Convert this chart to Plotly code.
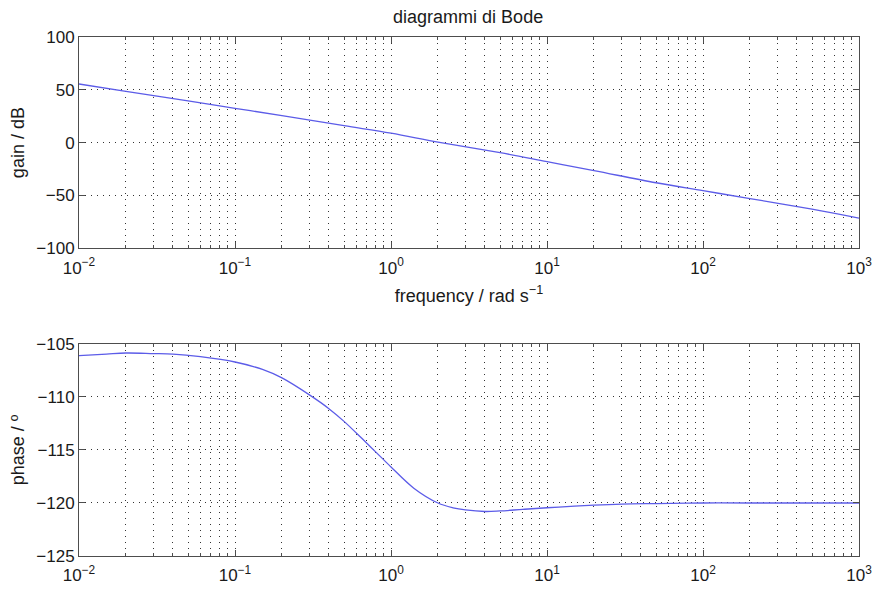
import plotly.graph_objects as go
from plotly.subplots import make_subplots

# Bode diagram readings (frequency in rad/s)
gain_freq = [0.01, 0.02, 0.05, 0.1, 0.2, 0.5, 1.0, 2.0, 5.0, 10, 20, 50, 100, 200, 500, 1000]
gain_db = [55.5, 48.5, 39.5, 32.5, 25.5, 16.0, 9.0, 0.5, -9.5, -18.0, -26.5, -38.0, -45.5, -53.0, -63.0, -71.5]

phase_freq = [0.01, 0.015, 0.02, 0.03, 0.04, 0.06, 0.1, 0.15, 0.2, 0.3, 0.4, 0.5, 0.65, 0.8,
              1.0, 1.4, 2.0, 2.5, 3.0, 4.0, 5.0, 7.0, 10, 15, 20, 30, 50, 100, 200, 500, 1000]
phase_deg = [-106.1, -105.95, -105.85, -105.9, -105.95, -106.2, -106.7, -107.4, -108.2, -109.8,
             -111.1, -112.3, -113.9, -115.2, -116.6, -118.6, -120.0, -120.45, -120.65, -120.8,
             -120.75, -120.6, -120.45, -120.3, -120.2, -120.1, -120.05, -120.0, -120.0, -120.0, -120.0]

freq_ticks = [0.01, 0.1, 1, 10, 100, 1000]
freq_labels = ["10<sup>\u22122</sup>", "10<sup>\u22121</sup>", "10<sup>0</sup>",
               "10<sup>1</sup>", "10<sup>2</sup>", "10<sup>3</sup>"]
gain_ticks = [-100, -50, 0, 50, 100]
phase_ticks = [-125, -120, -115, -110, -105]

FONT = "Liberation Sans, Arial, Helvetica, sans-serif"
TXT = "#1a1a1a"
FRAME = "#4d4d4d"
GRID = "#333333"
LINE = "#5c5ce8"
TICK_SIZE = 17
LABEL_SIZE = 18

fig = make_subplots(rows=2, cols=1, vertical_spacing=0.0)

fig.add_trace(go.Scatter(x=gain_freq, y=gain_db, mode="lines",
                         line=dict(color=LINE, width=1.3, shape="spline", smoothing=1.0),
                         showlegend=False), row=1, col=1)
fig.add_trace(go.Scatter(x=phase_freq, y=phase_deg, mode="lines",
                         line=dict(color=LINE, width=1.3, shape="spline", smoothing=1.0),
                         showlegend=False), row=2, col=1)

xcommon = dict(
    type="log", range=[-2, 3], tickvals=freq_ticks, ticktext=freq_labels,
    showline=True, linecolor=FRAME, linewidth=1, mirror="ticks",
    ticks="inside", ticklen=6, tickcolor=FRAME, ticklabelstandoff=4,
    showgrid=True, gridcolor=GRID, gridwidth=1, griddash="1px,5px",
    minor=dict(dtick="D1", ticks="inside", ticklen=3, tickcolor=FRAME,
               showgrid=True, gridcolor=GRID, gridwidth=1, griddash="1px,5px"),
    tickfont=dict(family=FONT, size=TICK_SIZE, color=TXT), zeroline=False,
    automargin=False,
)
ycommon = dict(
    showline=True, linecolor=FRAME, linewidth=1, mirror="ticks",
    ticks="inside", ticklen=6, tickcolor=FRAME,
    showgrid=True, gridcolor=GRID, gridwidth=1, griddash="1px,5px",
    tickfont=dict(family=FONT, size=TICK_SIZE, color=TXT), zeroline=False,
    automargin=False,
)

fig.update_layout(
    width=875, height=592,
    margin=dict(l=79, r=16, t=37, b=36),
    plot_bgcolor="white", paper_bgcolor="white",
    font=dict(family=FONT, color=TXT, size=LABEL_SIZE),
    title=dict(text="diagrammi di Bode", x=0.535, xanchor="center", y=0.971, yanchor="middle",
               font=dict(family=FONT, size=LABEL_SIZE, color=TXT)),
    xaxis=dict(xcommon, domain=[0, 1],
               title=dict(text="frequency / rad s<sup>\u22121</sup>", standoff=12,
                          font=dict(family=FONT, size=LABEL_SIZE, color=TXT))),
    xaxis2=dict(xcommon, domain=[0, 1]),
    yaxis=dict(ycommon, domain=[0.593, 1.0], range=[-100, 100], tickvals=gain_ticks,
               title=dict(text="gain / dB", standoff=6,
                          font=dict(family=FONT, size=LABEL_SIZE, color=TXT))),
    yaxis2=dict(ycommon, domain=[0.0, 0.4085], range=[-125, -105], tickvals=phase_ticks,
                title=dict(text="phase / \u00ba", standoff=6,
                           font=dict(family=FONT, size=LABEL_SIZE, color=TXT))),
)

fig.write_html("out.html")
